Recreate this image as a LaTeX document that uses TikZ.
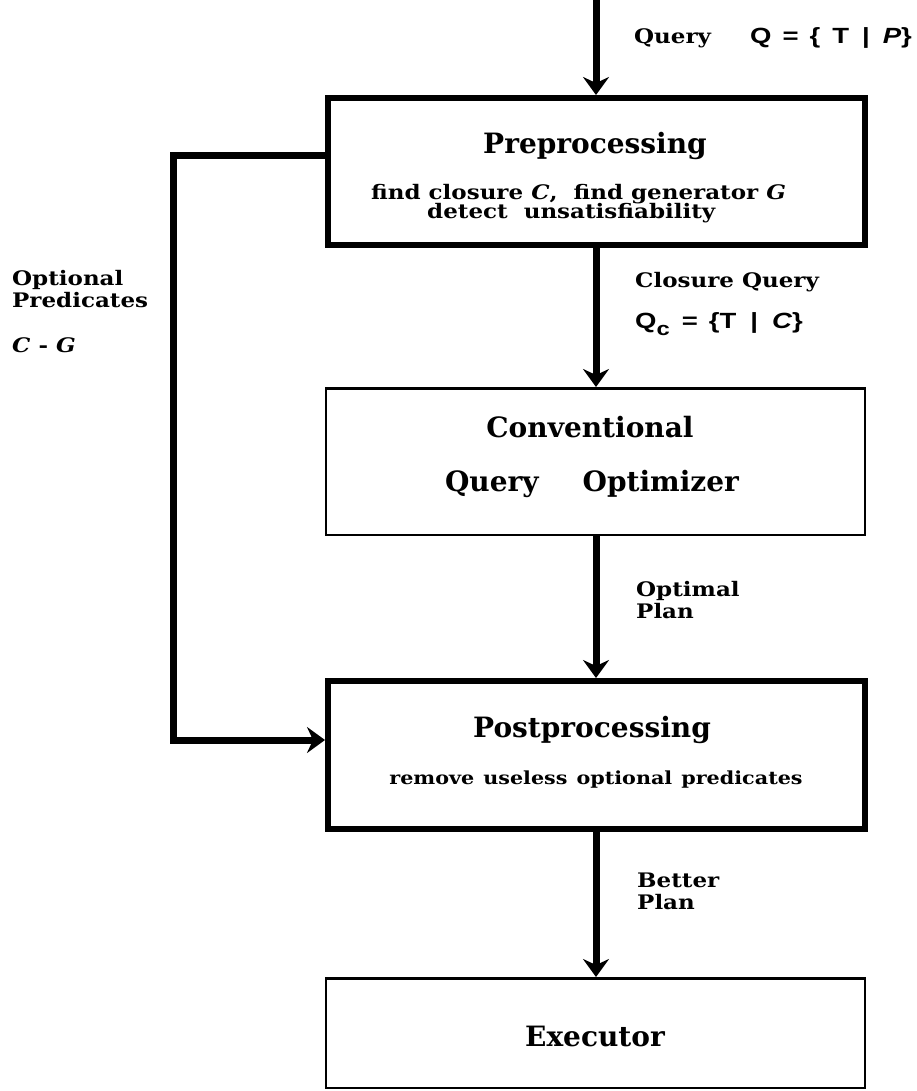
\documentclass[tikz,border=0pt]{standalone}
\usepackage{fontspec}
\setmainfont{DejaVu Serif}
\newfontfamily\wideserif[FakeStretch=1.15]{DejaVu Serif}
\newfontfamily\formsans[FakeStretch=1.25]{Liberation Sans}
\usetikzlibrary{arrows.meta}
\tikzset{
	thickbox/.style={draw, line width=6pt, minimum width=537pt, inner sep=0pt},
	thinbox/.style={draw, line width=2.5pt, minimum width=539pt, inner sep=0pt},
	boxtitle/.style={font=\fontsize{28}{30}\selectfont\bfseries, inner sep=0pt},
	boxnote/.style={font=\wideserif\fontsize{18}{18}\selectfont\bfseries, inner sep=0pt},
	bignote/.style={font=\wideserif\fontsize{20}{20}\selectfont\bfseries, inner sep=0pt, anchor=west},
	flowlabel/.style={font=\wideserif\fontsize{20}{22}\selectfont\bfseries, align=left, inner sep=0pt, anchor=west},
	formula/.style={font=\formsans\fontsize{22}{22}\selectfont\bfseries, inner sep=0pt, anchor=west},
	flow/.style={line width=7pt, -{Stealth[length=18pt,width=26pt,inset=6pt]}},
}
\begin{document}
\begin{tikzpicture}[x=1pt,y=-1pt]
	\fill[white] (0,0) rectangle (917,1091);
	\useasboundingbox (0,0) rectangle (917,1091);
	% the four stages
	\node[thickbox, minimum height=147pt] (pre) at (596.5,171.5) {};
	\node[thinbox, minimum height=146.5pt] (conv) at (595.5,461.5) {};
	\node[thickbox, minimum height=148pt] (post) at (596.5,755) {};
	\node[thinbox, minimum height=109.5pt] (exec) at (595.5,1033) {};
	% texts in the boxes
	\node[boxtitle] (pretitle) at (595,146) {Preprocessing};
	\node[bignote] (prenotea) at (371,194) {find closure \textit{C},\ \ find generator \textit{G}};
	\node[bignote] (prenoteb) at (427,213) {detect\ \ unsatisfiability};
	\node[boxtitle] (convtitle) at (590,427) {Conventional};
	\node[boxtitle] (convtitleb) at (592,484) {Query\hspace{44pt}Optimizer};
	\node[boxtitle] (posttitle) at (592,730) {Postprocessing};
	\node[boxnote] (postnote) at (596,780) {remove\hspace{9pt}useless\hspace{9pt}optional\hspace{9pt}predicates};
	\node[boxtitle] (exectitle) at (595,1036) {Executor};
	% labels beside the flow
	\node[flowlabel] (qlabel) at (634,38) {Query};
	\node[formula] (qform) at (750,38) {Q\hspace{11pt}=\hspace{11pt}\{\hspace{12pt}T\hspace{13pt}|\hspace{13pt}\textit{P}\}};
	\node[flowlabel] (optlabel) at (12,289) {Optional\\Predicates};
	\node[flowlabel] (cglabel) at (12,345) {\textit{C} - \textit{G}};
	\node[flowlabel] (closlabel) at (635,282) {Closure Query};
	\node[formula] (closform) at (635,324) {Q\raisebox{-7pt}{\fontsize{19}{19}\selectfont c}\hspace{12pt}=\hspace{11pt}\{T\hspace{14pt}|\hspace{14pt}\textit{C}\}};
	\node[flowlabel] (planlabel) at (636,600) {Optimal\\Plan};
	\node[flowlabel] (betterlabel) at (637,891) {Better\\Plan};
	% connectors
	\coordinate (qin) at (596,0);
	\coordinate (fbtop) at (173,156);
	\coordinate (fbbot) at (173,740);
	\draw[flow] (qin) -- (qin |- pre.north);
	\draw[flow] (pre.south -| qin) -- (conv.north -| qin);
	\draw[flow] (conv.south -| qin) -- (post.north -| qin);
	\draw[flow] (post.south -| qin) -- (exec.north -| qin);
	\draw[flow, line join=miter] (pre.west |- fbtop) -- (fbtop) -- (fbbot) -- (post.west |- fbbot);
\end{tikzpicture}
\end{document}
